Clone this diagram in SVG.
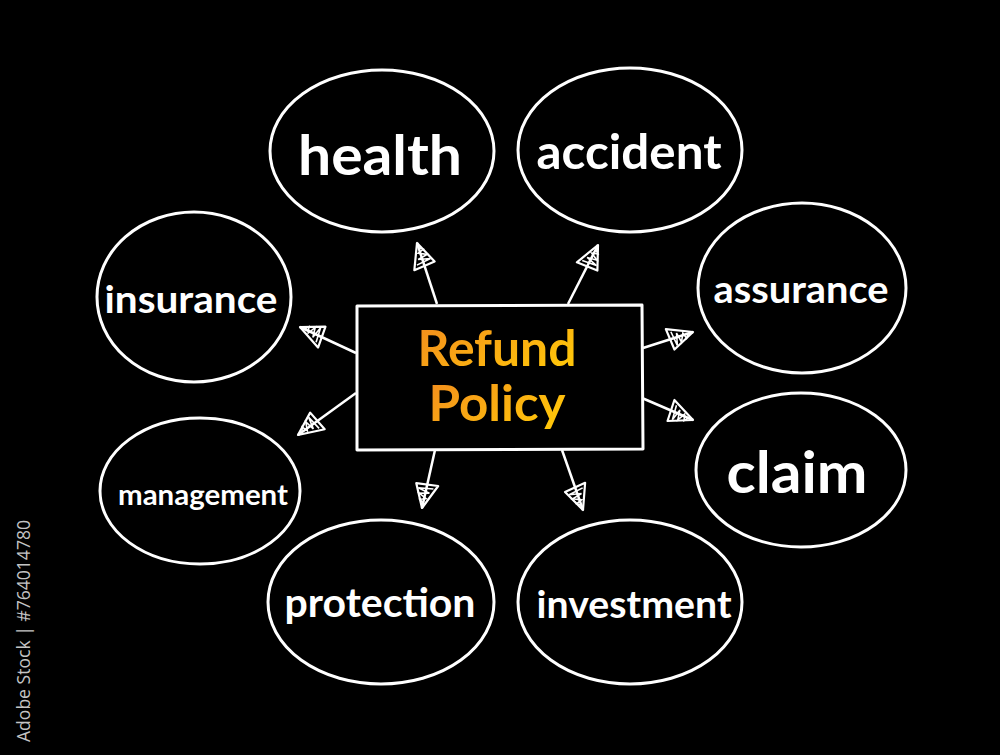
<svg xmlns="http://www.w3.org/2000/svg" width="1000" height="755" viewBox="0 0 1000 755">
<defs>
<linearGradient id="og" x1="0" y1="0" x2="1" y2="0.6">
<stop offset="0" stop-color="#f28a1e"/>
<stop offset="1" stop-color="#ffc40a"/>
</linearGradient>
<marker id="ah" markerUnits="userSpaceOnUse" markerWidth="34" markerHeight="30" viewBox="-30 -15 34 30" refX="0" refY="0" orient="auto">
<path d="M0,0 L-25,-11 L-23,11 Z" fill="none" stroke="#fff" stroke-width="2.2" stroke-linejoin="round"/>
<path d="M-21,-7 L-19,8 L-16,-4 L-14,6 L-10,-2 L-8,4 L-5,0" fill="none" stroke="#fff" stroke-width="1.6"/>
</marker>
<style>
.node ellipse{fill:#000;stroke:#fff;stroke-width:3}
.node text{fill:#fff;font-family:"Lato","Open Sans",sans-serif;font-weight:bold;text-anchor:middle;dominant-baseline:central}
.conn line{stroke:#fff;stroke-width:2.5;marker-end:url(#ah)}
.ctr{text-anchor:middle;dominant-baseline:central;font-family:"Lato",sans-serif;font-weight:bold;font-size:50px;fill:url(#og)}
</style>
</defs>
<rect width="1000" height="755" fill="#000"/>
<text transform="translate(30,742) rotate(-90)" font-family="Open Sans, sans-serif" font-size="17.5" fill="#c4c4c4" textLength="222" lengthAdjust="spacingAndGlyphs">Adobe Stock | #764014780</text>
<g id="connectors" class="conn">
<line x1="437" y1="304" x2="417" y2="243"/>
<line x1="568" y1="304" x2="598" y2="245"/>
<line x1="356" y1="353" x2="300" y2="327"/>
<line x1="356" y1="393" x2="298" y2="435"/>
<line x1="643" y1="348" x2="693" y2="332"/>
<line x1="642" y1="398" x2="693" y2="420"/>
<line x1="435" y1="450" x2="422" y2="508"/>
<line x1="562" y1="450" x2="583" y2="510"/>
</g>
<g id="center">
<path d="M357,306 L642,305 L643,449 L357,450 Z" fill="#000" stroke="#fff" stroke-width="3" stroke-linejoin="round"/>
<text class="ctr" x="497" y="347" textLength="159" lengthAdjust="spacingAndGlyphs">Refund</text>
<text class="ctr" x="497" y="402" textLength="137" lengthAdjust="spacingAndGlyphs">Policy</text>
</g>
<g id="health" class="node"><ellipse cx="382" cy="151" rx="112" ry="81"/><text x="380" y="153" font-size="56" textLength="164" lengthAdjust="spacingAndGlyphs">health</text></g>
<g id="accident" class="node"><ellipse cx="630" cy="150" rx="112" ry="82"/><text x="629" y="150" font-size="48" textLength="185" lengthAdjust="spacingAndGlyphs">accident</text></g>
<g id="insurance" class="node"><ellipse cx="194" cy="297" rx="97" ry="85"/><text x="191" y="298" font-size="38" textLength="173" lengthAdjust="spacingAndGlyphs">insurance</text></g>
<g id="assurance" class="node"><ellipse cx="802" cy="288" rx="104" ry="85"/><text x="801" y="288" font-size="38" textLength="175" lengthAdjust="spacingAndGlyphs">assurance</text></g>
<g id="management" class="node"><ellipse cx="200" cy="491" rx="100" ry="73"/><text x="203" y="493" font-size="29" textLength="170" lengthAdjust="spacingAndGlyphs">management</text></g>
<g id="claim" class="node"><ellipse cx="801" cy="470" rx="105" ry="77"/><text x="797" y="470" font-size="58" textLength="141" lengthAdjust="spacingAndGlyphs">claim</text></g>
<g id="protection" class="node"><ellipse cx="381" cy="602" rx="113" ry="82"/><text x="380" y="602" font-size="40" textLength="191" lengthAdjust="spacingAndGlyphs">protection</text></g>
<g id="investment" class="node"><ellipse cx="630" cy="602" rx="112" ry="82"/><text x="634" y="603" font-size="38" textLength="195" lengthAdjust="spacingAndGlyphs">investment</text></g>
</svg>
